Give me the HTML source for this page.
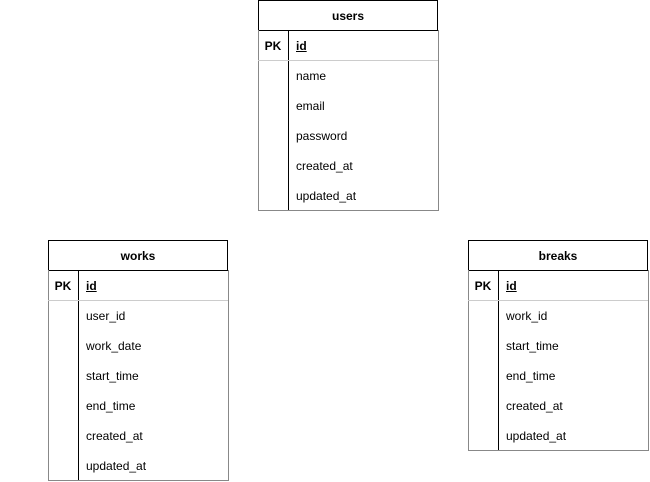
<!DOCTYPE html>
<html><head><meta charset="utf-8"><style>
body{margin:0;width:650px;height:482px;background:#fff;position:relative;font-family:"Liberation Sans",Arial,sans-serif;font-size:12px;color:#000;overflow:hidden}
.t{position:absolute;width:180px}
.h{position:absolute;left:0;top:0;width:178px;height:29px;border:1px solid #000;text-align:center;line-height:31px;font-weight:bold}
.b{position:absolute;left:0;top:30px;width:179px;border-left:1px solid #888;border-right:1px solid #888;border-bottom:1px solid #888;box-sizing:border-box}
.v{position:absolute;left:30px;top:30px;width:1px;background:#000}
.r{position:absolute;left:38px;height:30px;line-height:32px}
.pk{position:absolute;left:0;width:30px;text-align:center;top:30px;height:30px;line-height:32px;font-weight:bold}
.sep{position:absolute;left:0;top:60px;width:180px;height:1px;background:#ccc}
.id{font-weight:bold;text-decoration:underline}
</style></head><body>

<div class="t" style="left:258px;top:0">
<div class="h">users</div>
<div class="b" style="width:181px;height:181px"></div>
<div class="v" style="height:180px"></div>
<div class="sep"></div>
<div class="pk">PK</div>
<div class="r id" style="top:30px">id</div>
<div class="r" style="top:60px">name</div>
<div class="r" style="top:90px">email</div>
<div class="r" style="top:120px">password</div>
<div class="r" style="top:150px">created_at</div>
<div class="r" style="top:180px">updated_at</div>
</div>

<div class="t" style="left:48px;top:240px">
<div class="h">works</div>
<div class="b" style="width:181px;height:211px"></div>
<div class="v" style="height:210px"></div>
<div class="sep"></div>
<div class="pk">PK</div>
<div class="r id" style="top:30px">id</div>
<div class="r" style="top:60px">user_id</div>
<div class="r" style="top:90px">work_date</div>
<div class="r" style="top:120px">start_time</div>
<div class="r" style="top:150px">end_time</div>
<div class="r" style="top:180px">created_at</div>
<div class="r" style="top:210px">updated_at</div>
</div>

<div class="t" style="left:468px;top:240px">
<div class="h">breaks</div>
<div class="b" style="width:181px;height:181px"></div>
<div class="v" style="height:180px"></div>
<div class="sep"></div>
<div class="pk">PK</div>
<div class="r id" style="top:30px">id</div>
<div class="r" style="top:60px">work_id</div>
<div class="r" style="top:90px">start_time</div>
<div class="r" style="top:120px">end_time</div>
<div class="r" style="top:150px">created_at</div>
<div class="r" style="top:180px">updated_at</div>
</div>

</body></html>
